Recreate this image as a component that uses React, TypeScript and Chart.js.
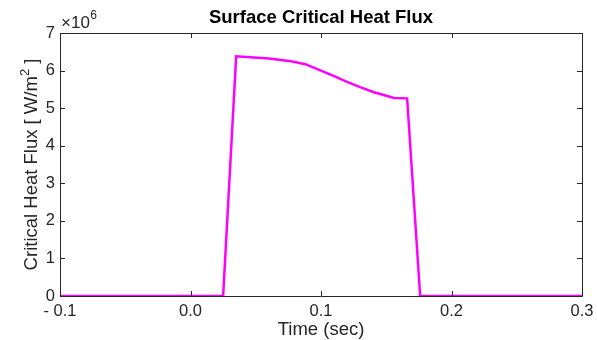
import React, { useEffect, useRef } from "react";
import { Chart, registerables } from "chart.js";

Chart.register(...registerables);

const times = [-0.1, 0.025, 0.035, 0.06, 0.077, 0.088, 0.1, 0.11, 0.12, 0.13, 0.14, 0.15, 0.156, 0.166, 0.176, 0.3];
const fluxMW = [0, 0, 6.38, 6.32, 6.25, 6.17, 6.0, 5.85, 5.7, 5.56, 5.43, 5.33, 5.27, 5.26, 0, 0];
const xTicks = [-0.1, 0.0, 0.1, 0.2, 0.3];
const yTicks = [0, 1, 2, 3, 4, 5, 6, 7];
const titleText = "Surface Critical Heat Flux";
const xLabelText = "Time (sec)";

const FONT = "'Liberation Sans', Arial, Helvetica, sans-serif";
const TXT = "#262626";

const decor = {
  id: "decor",
  afterDraw(chart: any) {
    const ctx = chart.ctx;
    const a = chart.chartArea;
    const xs = chart.scales.x;
    const ys = chart.scales.y;
    ctx.save();
    ctx.strokeStyle = TXT;
    ctx.lineWidth = 1;
    ctx.beginPath();
    ctx.rect(a.left + 0.5, a.top + 0.5, a.right - a.left, a.bottom - a.top);
    ctx.stroke();
    const tl = 5;
    ctx.beginPath();
    for (const t of xTicks) {
      const px = Math.round(xs.getPixelForValue(t)) + 0.5;
      ctx.moveTo(px, a.bottom);
      ctx.lineTo(px, a.bottom - tl);
      ctx.moveTo(px, a.top);
      ctx.lineTo(px, a.top + tl);
    }
    for (const t of yTicks) {
      const py = Math.round(ys.getPixelForValue(t * 1e6)) + 0.5;
      ctx.moveTo(a.left, py);
      ctx.lineTo(a.left + tl, py);
      ctx.moveTo(a.right, py);
      ctx.lineTo(a.right - tl, py);
    }
    ctx.stroke();

    ctx.fillStyle = "#000";
    ctx.font = "bold 18.5px " + FONT;
    ctx.textAlign = "center";
    ctx.textBaseline = "alphabetic";
    ctx.fillText(titleText, (a.left + a.right) / 2, 23);

    ctx.fillStyle = TXT;
    ctx.font = "18.5px " + FONT;
    ctx.fillText(xLabelText, (a.left + a.right) / 2, 335);

    // x10^6
    ctx.textAlign = "left";
    ctx.font = "17px " + FONT;
    ctx.fillText("\u00d710", 61, 28);
    const w = ctx.measureText("\u00d710").width;
    ctx.font = "12px " + FONT;
    ctx.fillText("6", 61 + w + 0.5, 19);

    // y label
    ctx.translate(37, (a.top + a.bottom) / 2);
    ctx.rotate(-Math.PI / 2);
    const p1 = "Critical Heat Flux [ W/m";
    const p2 = "2";
    const p3 = " ]";
    ctx.font = "18.5px " + FONT;
    const w1 = ctx.measureText(p1).width;
    ctx.font = "13px " + FONT;
    const w2 = ctx.measureText(p2).width;
    ctx.font = "18.5px " + FONT;
    const w3 = ctx.measureText(p3).width;
    const total = w1 + w2 + w3;
    const x0 = -total / 2;
    ctx.textAlign = "left";
    ctx.fillText(p1, x0, 0);
    ctx.font = "13px " + FONT;
    ctx.fillText(p2, x0 + w1, -8);
    ctx.font = "18.5px " + FONT;
    ctx.fillText(p3, x0 + w1 + w2, 0);
    ctx.restore();
  },
};

export default function App() {
  const ref = useRef<HTMLCanvasElement>(null);
  useEffect(() => {
    document.body.style.margin = "0";
    const data = times.map((t, i) => ({ x: t, y: fluxMW[i] * 1e6 }));
    const chart = new Chart(ref.current!, {
      type: "line",
      data: {
        datasets: [
          {
            data,
            borderColor: "#ff00ff",
            borderWidth: 2.5,
            pointRadius: 0,
            tension: 0,
            fill: false,
          },
        ],
      },
      options: {
        animation: false,
        responsive: false,
        layout: { padding: { top: 33, right: 15, left: 0, bottom: 0 } },
        plugins: { legend: { display: false }, tooltip: { enabled: false }, title: { display: false } },
        scales: {
          x: {
            type: "linear",
            min: -0.1,
            max: 0.3,
            afterBuildTicks: (s: any) => {
              s.ticks = xTicks.map((v) => ({ value: v }));
            },
            afterFit: (s: any) => {
              s.height = 44;
              s.paddingLeft = 0;
              s.paddingRight = 0;
            },
            grid: { display: false, drawTicks: false, tickLength: 0 },
            border: { display: false },
            ticks: {
              color: TXT,
              padding: 6,
              maxRotation: 0,
              autoSkip: false,
              font: { family: FONT, size: 16.5 },
              callback: (v: any) => {
                const n = Number(v);
                if (n < 0) return "- " + Math.abs(n).toFixed(1);
                return n.toFixed(1);
              },
            },
          },
          y: {
            min: 0,
            max: 7e6,
            afterBuildTicks: (s: any) => {
              s.ticks = yTicks.map((v) => ({ value: v * 1e6 }));
            },
            afterFit: (s: any) => {
              s.width = 60;
              s.paddingTop = 0;
              s.paddingBottom = 0;
            },
            grid: { display: false, drawTicks: false, tickLength: 0 },
            border: { display: false },
            ticks: {
              color: TXT,
              padding: 5,
              autoSkip: false,
              font: { family: FONT, size: 16.5 },
              callback: (v: any) => String(Math.round(Number(v) / 1e6)),
            },
          },
        },
      },
      plugins: [decor],
    });
    return () => chart.destroy();
  }, []);
  return (
    <div style={{ position: "absolute", left: 0, top: 0, width: 597, height: 340, background: "#fff" }}>
      <canvas ref={ref} width={597} height={340} style={{ width: 597, height: 340 }} />
    </div>
  );
}
